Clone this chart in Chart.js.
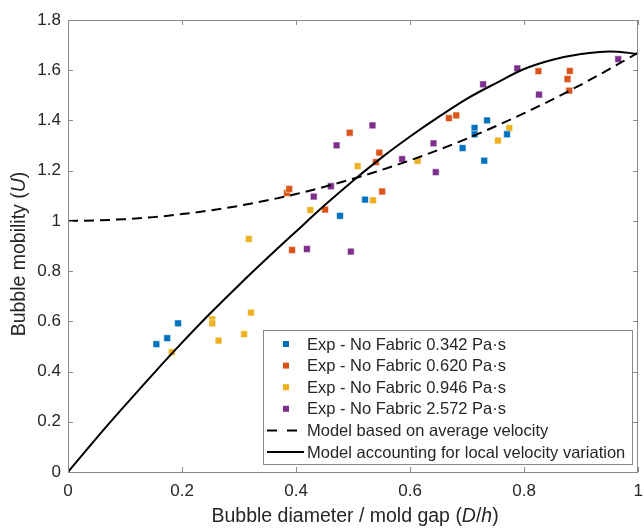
<!DOCTYPE html>
<html>
<head>
<meta charset="utf-8">
<script src="https://cdn.jsdelivr.net/npm/chart.js@4.4.1/dist/chart.umd.min.js"></script>
<style>
  html, body { margin: 0; padding: 0; background: #ffffff; }
  #wrap { width: 644px; height: 529px; position: relative; }
</style>
</head>
<body>
<div id="wrap"><canvas id="c"></canvas></div>
<script>
// ---- Data ----
const seriesLabels = [
  'Exp - No Fabric 0.342 Pa\u00b7s',
  'Exp - No Fabric 0.620 Pa\u00b7s',
  'Exp - No Fabric 0.946 Pa\u00b7s',
  'Exp - No Fabric 2.572 Pa\u00b7s'
];
const modelLabels = ['Model based on average velocity', 'Model accounting for local velocity variation'];

const x342 = [0.155, 0.174, 0.193, 0.477, 0.521, 0.692, 0.713, 0.713, 0.735, 0.730, 0.770];
const y342 = [0.509, 0.533, 0.592, 1.020, 1.085, 1.290, 1.370, 1.345, 1.400, 1.240, 1.345];

const x620 = [0.384, 0.388, 0.393, 0.451, 0.494, 0.546, 0.540, 0.551, 0.668, 0.681, 0.825, 0.880, 0.876, 0.879];
const y620 = [1.111, 1.127, 0.884, 1.045, 1.351, 1.272, 1.234, 1.117, 1.409, 1.420, 1.596, 1.597, 1.565, 1.519];

const x946 = [0.182, 0.253, 0.253, 0.264, 0.309, 0.321, 0.317, 0.425, 0.535, 0.508, 0.613, 0.754, 0.774];
const y946 = [0.477, 0.608, 0.592, 0.523, 0.549, 0.635, 0.928, 1.043, 1.082, 1.218, 1.239, 1.320, 1.369];

const x2572 = [0.419, 0.431, 0.461, 0.471, 0.496, 0.534, 0.586, 0.641, 0.645, 0.728, 0.788, 0.826, 0.965];
const y2572 = [0.888, 1.097, 1.138, 1.301, 0.878, 1.380, 1.246, 1.309, 1.194, 1.544, 1.607, 1.503, 1.644];

const modelX = [0, 0.05, 0.1, 0.15, 0.2, 0.25, 0.3, 0.35, 0.4, 0.45, 0.5, 0.55, 0.6, 0.65, 0.7, 0.75, 0.8, 0.85, 0.9, 0.95, 1.0];
const avgModelY = [1.000, 1.002, 1.007, 1.015, 1.027, 1.042, 1.060, 1.082, 1.107, 1.136, 1.168, 1.203, 1.241, 1.283, 1.328, 1.377, 1.429, 1.484, 1.543, 1.605, 1.670];
const localModelY = [0, 0.135, 0.265, 0.392, 0.515, 0.633, 0.745, 0.853, 0.958, 1.062, 1.160, 1.252, 1.336, 1.414, 1.487, 1.548, 1.605, 1.642, 1.665, 1.675, 1.665];

const xTicks = [0, 0.2, 0.4, 0.6, 0.8, 1];
const xTickLabels = ['0', '0.2', '0.4', '0.6', '0.8', '1'];
const yTicks = [0, 0.2, 0.4, 0.6, 0.8, 1, 1.2, 1.4, 1.6, 1.8];
const yTickLabels = ['0', '0.2', '0.4', '0.6', '0.8', '1', '1.2', '1.4', '1.6', '1.8'];

const colors = ['#0072BD', '#D95319', '#EDB120', '#7E2F8E'];
const FONT = '"Liberation Sans", Arial, Helvetica, sans-serif';
const TEXT = '#262626';
const AXIS = '#8a8a8a';

function pts(xs, ys) { return xs.map((x, i) => ({ x: x, y: ys[i] })); }

const expData = [[x342, y342], [x620, y620], [x946, y946], [x2572, y2572]];
const datasets = expData.map((d, i) => ({
  label: seriesLabels[i],
  data: pts(d[0], d[1]),
  pointStyle: 'rect',
  pointRadius: 4.8,
  pointBackgroundColor: colors[i],
  pointBorderColor: 'rgba(255,255,255,0.55)',
  pointBorderWidth: 1,
  showLine: false,
  order: 2
}));
datasets.push({
  label: modelLabels[0],
  data: pts(modelX, avgModelY),
  showLine: true,
  borderColor: '#000000',
  borderWidth: 2,
  borderDash: [10, 6],
  pointRadius: 0,
  cubicInterpolationMode: 'monotone',
  order: 1
});
datasets.push({
  label: modelLabels[1],
  data: pts(modelX, localModelY),
  showLine: true,
  borderColor: '#000000',
  borderWidth: 2,
  pointRadius: 0,
  cubicInterpolationMode: 'monotone',
  order: 1
});

// Box, inward ticks, axis titles and legend
const decorPlugin = {
  id: 'decor',
  afterDraw(chart) {
    const ctx = chart.ctx;
    const a = chart.chartArea;
    const xs = chart.scales.x, ys = chart.scales.y;
    ctx.save();
    // box
    ctx.strokeStyle = AXIS;
    ctx.lineWidth = 1;
    ctx.strokeRect(Math.round(a.left) + 0.5, Math.round(a.top) + 0.5,
                   Math.round(a.right - a.left) - 1, Math.round(a.bottom - a.top));
    // inward ticks
    const tl = 5;
    ctx.beginPath();
    xTicks.forEach(v => {
      const px = Math.round(xs.getPixelForValue(v)) + 0.5;
      ctx.moveTo(px, a.bottom); ctx.lineTo(px, a.bottom - tl);
      ctx.moveTo(px, a.top); ctx.lineTo(px, a.top + tl);
    });
    yTicks.forEach(v => {
      const py = Math.round(ys.getPixelForValue(v)) + 0.5;
      ctx.moveTo(a.left, py); ctx.lineTo(a.left + tl, py);
      ctx.moveTo(a.right, py); ctx.lineTo(a.right - tl, py);
    });
    ctx.stroke();

    // axis titles with italic parts
    function drawRich(parts, size) {
      let w = 0;
      parts.forEach(p => { ctx.font = (p[1] ? 'italic ' : '') + size + 'px ' + FONT; w += ctx.measureText(p[0]).width; });
      let x = -w / 2;
      parts.forEach(p => {
        ctx.font = (p[1] ? 'italic ' : '') + size + 'px ' + FONT;
        ctx.fillText(p[0], x, 0);
        x += ctx.measureText(p[0]).width;
      });
    }
    ctx.fillStyle = TEXT;
    ctx.textBaseline = 'middle';
    ctx.textAlign = 'left';
    ctx.save();
    ctx.translate((a.left + a.right) / 2 + 2, 517);
    drawRich([['Bubble diameter / mold gap (', false], ['D', true], ['/', false], ['h', true], [')', false]], 19.5);
    ctx.restore();
    ctx.save();
    ctx.translate(20, (a.top + a.bottom) / 2 + 8);
    ctx.rotate(-Math.PI / 2);
    drawRich([['Bubble mobility (', false], ['U', true], [')', false]], 19.5);
    ctx.restore();

    // legend
    const bx = 263, by = 330, bw = 369, bh = 134;
    ctx.fillStyle = '#ffffff';
    ctx.fillRect(bx, by, bw, bh);
    ctx.strokeStyle = AXIS;
    ctx.strokeRect(bx + 0.5, by + 0.5, bw, bh);
    const rowY0 = by + 14, step = 21.6;
    ctx.font = '16.5px ' + FONT;
    ctx.textBaseline = 'middle';
    ctx.textAlign = 'left';
    const textX = 307;
    for (let i = 0; i < 4; i++) {
      const cy = rowY0 + i * step;
      ctx.fillStyle = colors[i];
      ctx.fillRect(283, cy - 3, 6, 6);
      ctx.fillStyle = TEXT;
      ctx.fillText(seriesLabels[i], textX, cy + 1);
    }
    // dashed model
    let cy = rowY0 + 4 * step;
    ctx.strokeStyle = '#000';
    ctx.lineWidth = 2;
    ctx.beginPath();
    ctx.moveTo(267, cy); ctx.lineTo(277, cy);
    ctx.moveTo(287, cy); ctx.lineTo(297, cy);
    ctx.stroke();
    ctx.fillStyle = TEXT;
    ctx.fillText(modelLabels[0], textX, cy + 1);
    cy = rowY0 + 5 * step;
    ctx.beginPath();
    ctx.moveTo(267, cy); ctx.lineTo(304, cy);
    ctx.stroke();
    ctx.fillText(modelLabels[1], textX, cy + 1);
    ctx.restore();
  }
};

new Chart(document.getElementById('c'), {
  type: 'scatter',
  data: { datasets: datasets },
  options: {
    responsive: true,
    maintainAspectRatio: false,
    animation: false,
    layout: { padding: { top: 20, right: 2, left: 0, bottom: 0 } },
    plugins: { legend: { display: false }, tooltip: { enabled: false }, title: { display: false } },
    scales: {
      x: {
        type: 'linear', min: 0, max: 1,
        grid: { display: false, drawTicks: false },
        border: { display: false },
        afterBuildTicks: s => { s.ticks = xTicks.map(v => ({ value: v })); },
        afterFit: s => { s.height = 57; s.paddingLeft = 0; s.paddingRight = 0; },
        ticks: {
          padding: 9, color: TEXT, font: { family: FONT, size: 17 }, maxRotation: 0, autoSkip: false,
          callback: (v, i) => xTickLabels[i]
        }
      },
      y: {
        type: 'linear', min: 0, max: 1.8,
        grid: { display: false, drawTicks: false },
        border: { display: false },
        afterBuildTicks: s => { s.ticks = yTicks.map(v => ({ value: v })); },
        afterFit: s => { s.width = 68; s.paddingTop = 0; s.paddingBottom = 0; },
        ticks: {
          padding: 7, color: TEXT, font: { family: FONT, size: 17 }, autoSkip: false,
          callback: (v, i) => yTickLabels[i]
        }
      }
    }
  },
  plugins: [decorPlugin]
});
</script>
</body>
</html>
